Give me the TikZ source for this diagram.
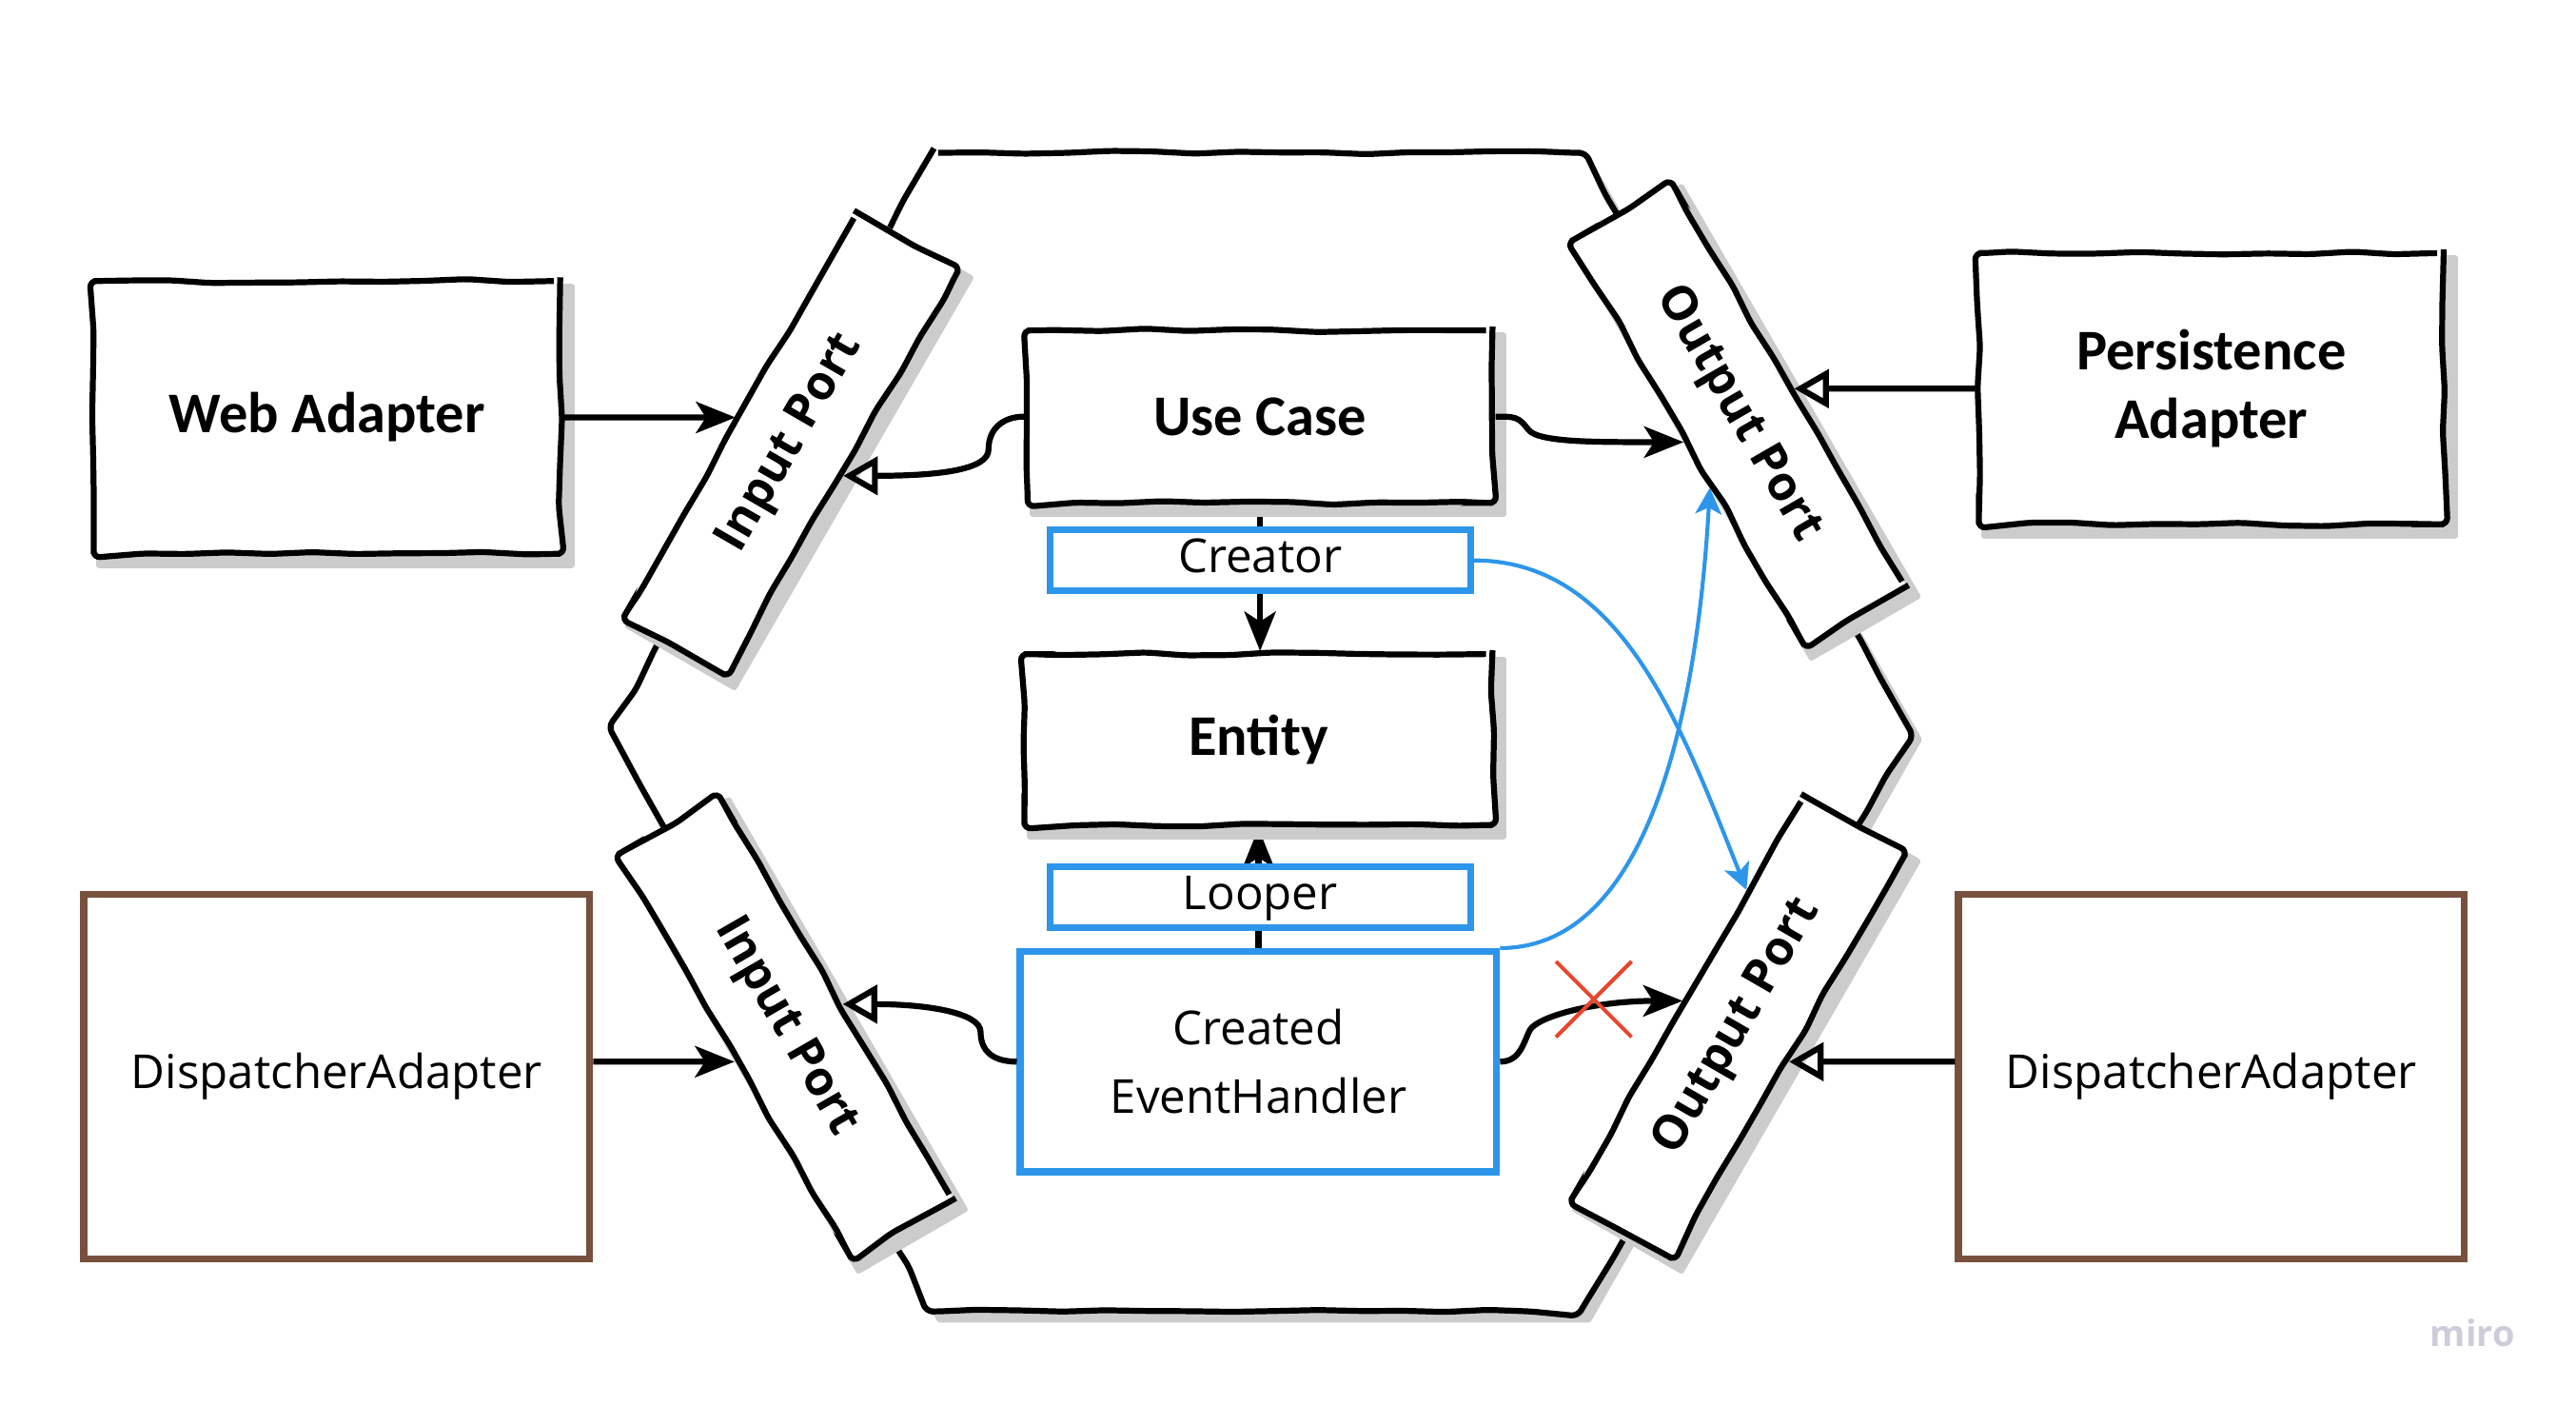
\documentclass[tikz,border=0pt]{standalone}
\usepackage{fontspec}
\newfontfamily\carlito{Carlito}
\newfontfamily\osans{Open Sans}
\usetikzlibrary{arrows.meta,calc,decorations.pathmorphing}
\pgfdeclarelayer{bg}
\pgfdeclarelayer{shad}
\pgfsetlayers{bg,shad,main}
\definecolor{miroblue}{RGB}{45,150,235}
\definecolor{mirobrown}{RGB}{120,80,62}
\definecolor{xred}{RGB}{232,70,45}
\definecolor{mirogray}{RGB}{205,205,218}
\newcommand\nodeshadow[1]{%
  \fill[shadowfill] ([shift={(5,5)}]#1.north west) -- ([shift={(5,5)}]#1.north east)
    -- ([shift={(5,5)}]#1.south east) -- ([shift={(5,5)}]#1.south west) -- cycle;}
\begin{document}
\begin{tikzpicture}[x=1pt,y=-1pt,
  sketch/.style={draw=black, line width=3.6pt, fill=white, decorate,
    decoration={random steps,segment length=26pt,amplitude=1.2pt}, rounded corners=4pt},
  shadowfill/.style={fill=black!20, draw=black!20, line width=3.6pt, line join=round},
  hardbox/.style={sketch, inner sep=0pt, align=center, font=\carlito\bfseries\fontsize{35}{42}\selectfont},
  portbox/.style={sketch, inner sep=0pt, minimum width=284pt, minimum height=71pt,
    font=\osans\bfseries\fontsize{29}{34}\selectfont},
  bluebox/.style={draw=miroblue, line width=4.2pt, fill=white, inner sep=0pt, align=center,
    font=\osans\fontsize{28.5}{42}\selectfont},
  brownbox/.style={draw=mirobrown, line width=4.2pt, fill=white, inner sep=0pt, align=center,
    font=\osans\fontsize{28.5}{42}\selectfont},
  conn/.style={line width=3.6pt, draw=black},
  fillhead/.style={-{Stealth[length=24pt,width=19pt,inset=6pt]}},
  openhead/.style={-{Triangle[open,length=21pt,width=23pt]}},
  bluecurve/.style={draw=miroblue, line width=2.4pt, -{Stealth[length=16pt,width=16pt,inset=4pt]}},
]
\pgfmathsetseed{7}
\useasboundingbox (0,0) rectangle (1568,855.5);

% hexagon with its shadow
\begin{pgfonlayer}{bg}
\fill[shadowfill, shift={(5,5)}] (567,93) -- (962,93) -- (1163,445) -- (962,798) -- (567,798) -- (372,445) -- cycle;
\draw[sketch] (567,93) -- (962,93) -- (1163,445) -- (962,798) -- (567,798) -- (372,445) -- cycle;
\end{pgfonlayer}

% ports
\node[portbox, rotate=60]  (inUp)  at (481.5,270) {Input Port};
\node[portbox, rotate=-60] (inDn)  at (478,625)   {Input Port};
\node[portbox, rotate=-60] (outUp) at (1058,252)  {Output Port};
\node[portbox, rotate=60]  (outDn) at (1058,625)  {Output Port};

% boxes
\node[hardbox, minimum width=284pt, minimum height=166pt] (web) at (199,254) {Web Adapter};
\node[hardbox, minimum width=283pt, minimum height=165pt] (persist) at (1346,236.5) {Persistence\\Adapter};
\node[hardbox, minimum width=283pt, minimum height=105pt] (usecase) at (767,253.5) {Use Case};
\node[hardbox, minimum width=285pt, minimum height=104pt] (entity) at (766,450) {Entity};

\node[bluebox, minimum width=256pt, minimum height=37pt, text height=21pt, text depth=6pt] (creator) at (767,341) {Creator};
\node[bluebox, minimum width=256pt, minimum height=37pt, text height=21pt, text depth=6pt] (looper) at (767,546) {Looper};
\node[bluebox, minimum width=290pt, minimum height=134pt] (ceh) at (766,646) {Created\\EventHandler};

\node[brownbox, minimum width=308pt, minimum height=222pt] (dispL) at (205,655) {DispatcherAdapter};
\node[brownbox, minimum width=308pt, minimum height=222pt] (dispR) at (1346,655) {DispatcherAdapter};

\node[font=\osans\bfseries\fontsize{22}{26}\selectfont, text=mirogray, inner sep=0pt] (miro) at (1505,811) {miro};

% shadows of the sketched shapes
\begin{pgfonlayer}{shad}
\foreach \n in {inUp,inDn,outUp,outDn,web,persist,usecase,entity}{\nodeshadow{\n}}
\end{pgfonlayer}

% port corner coordinates
\foreach \p in {inUp,inDn,outUp,outDn}{
  \coordinate (\p NW) at (\p.north west);
  \coordinate (\p NE) at (\p.north east);
  \coordinate (\p SW) at (\p.south west);
  \coordinate (\p SE) at (\p.south east);
}

% vertical connectors (under the blue boxes)
\begin{pgfonlayer}{bg}
\draw[conn, fillhead] (usecase.south) -- (usecase.south |- entity.north);
\draw[conn, fillhead] (ceh.north) -- (ceh.north |- entity.south);
\end{pgfonlayer}

% Web Adapter -> Input Port
\draw[conn, fillhead] (web.east) -- (intersection of inUpNW--inUpNE and web.east--web.west);

% Use Case -> Input Port
\coordinate (bM) at ($(usecase.west)+(-22,20)$);
\coordinate (bL1) at ($(usecase.west)+(0,36)$);
\coordinate (bL2) at ($(usecase.west)+(-100,36)$);
\coordinate (bT) at (intersection of inUpSW--inUpSE and bL1--bL2);
\draw[conn, openhead] (usecase.west) .. controls +(-14,0) and +(0,-12) .. (bM)
  .. controls +(0,12) and +(60,0) .. (bT);

% Use Case -> Output Port
\coordinate (cM) at ($(usecase.east)+(20,8)$);
\coordinate (cL1) at ($(usecase.east)+(0,15.5)$);
\coordinate (cL2) at ($(usecase.east)+(100,15.5)$);
\coordinate (cT) at (intersection of outUpSW--outUpSE and cL1--cL2);
\draw[conn, fillhead] (usecase.east) .. controls +(12,0) and +(-6,-8) .. (cM)
  .. controls +(6,8) and +(-50,0) .. (cT);

% Persistence Adapter -> Output Port
\draw[conn, openhead] (persist.west) -- (intersection of outUpNW--outUpNE and persist.west--persist.east);

% Created EventHandler -> Input Port
\coordinate (gM) at ($(ceh.west)+(-22,-18)$);
\coordinate (gL1) at ($(ceh.west)+(0,-35)$);
\coordinate (gL2) at ($(ceh.west)+(-100,-35)$);
\coordinate (gT) at (intersection of inDnNW--inDnNE and gL1--gL2);
\draw[conn, openhead] (ceh.west) .. controls +(-14,0) and +(0,12) .. (gM)
  .. controls +(0,-12) and +(50,0) .. (gT);

% Created EventHandler -> Output Port (crossed out)
\coordinate (hM) at ($(ceh.east)+(18,-19)$);
\coordinate (hL1) at ($(ceh.east)+(0,-37)$);
\coordinate (hL2) at ($(ceh.east)+(100,-37)$);
\coordinate (hT) at (intersection of outDnNW--outDnNE and hL1--hL2);
\draw[conn, fillhead] (ceh.east) .. controls +(12,0) and +(-4,8) .. (hM)
  .. controls +(4,-8) and +(-55,0) .. (hT);

% DispatcherAdapter -> Input Port
\coordinate (iS) at ($(dispL.east)+(0,-9)$);
\coordinate (iS2) at ($(dispL.west)+(0,-9)$);
\draw[conn, fillhead] (iS) -- (intersection of inDnSW--inDnSE and iS--iS2);

% DispatcherAdapter -> Output Port
\coordinate (jS) at ($(dispR.west)+(0,-9)$);
\coordinate (jS2) at ($(dispR.east)+(0,-9)$);
\draw[conn, openhead] (jS) -- (intersection of outDnSW--outDnSE and jS--jS2);

% blue curves
\coordinate (kT) at ($(outDnNW)!0.76!(outDnNE)$);
\draw[bluecurve] (creator.east) .. controls +(90,0) and +(-40,-100) .. (kT);
\coordinate (lT) at ($(outUpSW)!0.605!(outUpSE)$);
\draw[bluecurve] (ceh.north east) .. controls +(100,0) and +(-6,105) .. (lT);

% red cross
\coordinate (xc) at ($(ceh.east)+(57,-38)$);
\draw[xred, line width=2.3pt] ($(xc)+(-23,-23)$) -- ($(xc)+(23,23)$)
  ($(xc)+(-23,23)$) -- ($(xc)+(23,-23)$);
\end{tikzpicture}
\end{document}
